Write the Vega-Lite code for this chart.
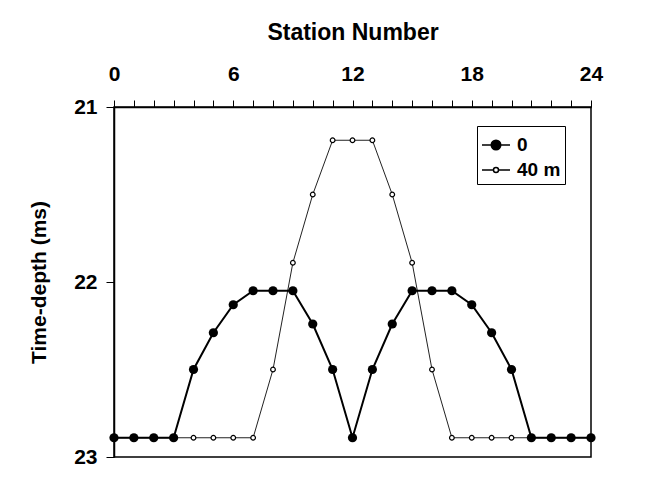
{
  "$schema": "https://vega.github.io/schema/vega-lite/v6.json",
  "autosize": {"type": "none"},
  "padding": {"left": 114, "top": 107, "right": 73, "bottom": 23},
  "width": 477,
  "height": 350,
  "background": "white",
  "config": {
    "font": "Liberation Sans",
    "view": {"stroke": "black", "strokeWidth": 1.5},
    "axis": {
      "grid": false,
      "domainColor": "black",
      "domainWidth": 1.5,
      "tickColor": "black",
      "tickWidth": 1,
      "labelColor": "black",
      "labelFont": "Liberation Sans",
      "labelFontWeight": "bold",
      "labelFontSize": 21,
      "titleColor": "black",
      "titleFont": "Liberation Sans",
      "titleFontWeight": "bold",
      "labelFlush": false,
      "labelOverlap": false
    },
    "legend": {
      "title": null,
      "orient": "none",
      "legendX": 363,
      "legendY": 19,
      "direction": "vertical",
      "fillColor": "white",
      "strokeColor": "black",
      "padding": 4,
      "rowPadding": 0,
      "symbolSize": 784,
      "symbolStrokeWidth": 1.5,
      "labelFont": "Liberation Sans",
      "labelFontWeight": "bold",
      "labelFontSize": 19,
      "labelColor": "black",
      "labelOffset": 6
    }
  },
  "data": {
    "values": [
      {"station": 0, "series": "40 m", "depth": 22.89},
      {"station": 1, "series": "40 m", "depth": 22.89},
      {"station": 2, "series": "40 m", "depth": 22.89},
      {"station": 3, "series": "40 m", "depth": 22.89},
      {"station": 4, "series": "40 m", "depth": 22.89},
      {"station": 5, "series": "40 m", "depth": 22.89},
      {"station": 6, "series": "40 m", "depth": 22.89},
      {"station": 7, "series": "40 m", "depth": 22.89},
      {"station": 8, "series": "40 m", "depth": 22.5},
      {"station": 9, "series": "40 m", "depth": 21.89},
      {"station": 10, "series": "40 m", "depth": 21.5},
      {"station": 11, "series": "40 m", "depth": 21.19},
      {"station": 12, "series": "40 m", "depth": 21.19},
      {"station": 13, "series": "40 m", "depth": 21.19},
      {"station": 14, "series": "40 m", "depth": 21.5},
      {"station": 15, "series": "40 m", "depth": 21.89},
      {"station": 16, "series": "40 m", "depth": 22.5},
      {"station": 17, "series": "40 m", "depth": 22.89},
      {"station": 18, "series": "40 m", "depth": 22.89},
      {"station": 19, "series": "40 m", "depth": 22.89},
      {"station": 20, "series": "40 m", "depth": 22.89},
      {"station": 21, "series": "40 m", "depth": 22.89},
      {"station": 22, "series": "40 m", "depth": 22.89},
      {"station": 23, "series": "40 m", "depth": 22.89},
      {"station": 24, "series": "40 m", "depth": 22.89},
      {"station": 0, "series": "0", "depth": 22.89},
      {"station": 1, "series": "0", "depth": 22.89},
      {"station": 2, "series": "0", "depth": 22.89},
      {"station": 3, "series": "0", "depth": 22.89},
      {"station": 4, "series": "0", "depth": 22.5},
      {"station": 5, "series": "0", "depth": 22.29},
      {"station": 6, "series": "0", "depth": 22.13},
      {"station": 7, "series": "0", "depth": 22.05},
      {"station": 8, "series": "0", "depth": 22.05},
      {"station": 9, "series": "0", "depth": 22.05},
      {"station": 10, "series": "0", "depth": 22.24},
      {"station": 11, "series": "0", "depth": 22.5},
      {"station": 12, "series": "0", "depth": 22.89},
      {"station": 13, "series": "0", "depth": 22.5},
      {"station": 14, "series": "0", "depth": 22.24},
      {"station": 15, "series": "0", "depth": 22.05},
      {"station": 16, "series": "0", "depth": 22.05},
      {"station": 17, "series": "0", "depth": 22.05},
      {"station": 18, "series": "0", "depth": 22.13},
      {"station": 19, "series": "0", "depth": 22.29},
      {"station": 20, "series": "0", "depth": 22.5},
      {"station": 21, "series": "0", "depth": 22.89},
      {"station": 22, "series": "0", "depth": 22.89},
      {"station": 23, "series": "0", "depth": 22.89},
      {"station": 24, "series": "0", "depth": 22.89}
    ]
  },
  "encoding": {
    "x": {
      "field": "station",
      "type": "quantitative",
      "scale": {"domain": [0, 24], "nice": false, "zero": false},
      "axis": {
        "orient": "top",
        "title": "Station Number",
        "titleFontSize": 23,
        "titlePadding": 19,
        "values": [0, 1, 2, 3, 4, 5, 6, 7, 8, 9, 10, 11, 12, 13, 14, 15, 16, 17, 18, 19, 20, 21, 22, 23, 24],
        "labelExpr": "datum.value % 6 === 0 ? datum.label : ''",
        "tickSize": 7,
        "labelPadding": 16
      }
    },
    "y": {
      "field": "depth",
      "type": "quantitative",
      "scale": {"domain": [21, 23], "reverse": true, "nice": false, "zero": false},
      "axis": {
        "title": "Time-depth (ms)",
        "titleFontSize": 21,
        "titlePadding": 24,
        "tickCount": 2,
        "format": "d",
        "tickSize": 8,
        "labelPadding": 9
      }
    }
  },
  "layer": [
    {
      "transform": [{"filter": "datum.series === '40 m'"}],
      "mark": {"type": "line", "color": "#222222", "strokeWidth": 1}
    },
    {
      "transform": [{"filter": "datum.series === '40 m'"}],
      "mark": {"type": "point", "shape": "circle", "size": 22, "filled": false, "fill": "white", "stroke": "black", "strokeWidth": 1.2, "opacity": 1}
    },
    {
      "transform": [{"filter": "datum.series === '0'"}],
      "mark": {"type": "line", "color": "black", "strokeWidth": 2}
    },
    {
      "transform": [{"filter": "datum.series === '0'"}],
      "mark": {"type": "point", "shape": "circle", "size": 85, "filled": true, "color": "black", "opacity": 1}
    },
    {
      "transform": [{"filter": "false"}],
      "mark": {"type": "point", "filled": false, "strokeWidth": 1.5, "opacity": 1},
      "encoding": {
        "shape": {
          "field": "series",
          "type": "nominal",
          "scale": {
            "domain": ["0", "40 m"],
            "range": [
              "M-1,0H-0.34M0.34,0H1M-0.34,0A0.34,0.34,0,1,0,0.34,0A0.34,0.34,0,1,0,-0.34,0Z",
              "M-1,0H-0.18M0.18,0H1M-0.18,0A0.18,0.18,0,1,0,0.18,0A0.18,0.18,0,1,0,-0.18,0Z"
            ]
          }
        },
        "fill": {
          "field": "series",
          "type": "nominal",
          "scale": {"domain": ["0", "40 m"], "range": ["black", "white"]}
        },
        "stroke": {
          "field": "series",
          "type": "nominal",
          "scale": {"domain": ["0", "40 m"], "range": ["black", "black"]}
        }
      }
    }
  ]
}
